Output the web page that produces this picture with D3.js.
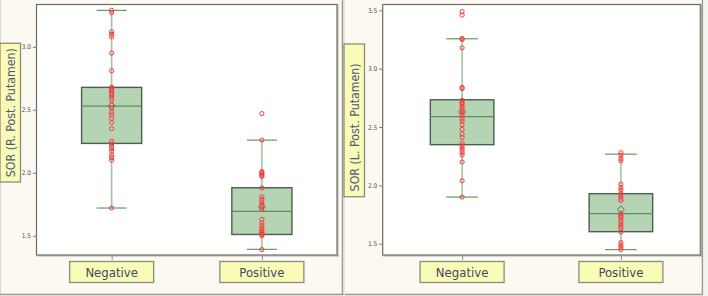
<!DOCTYPE html>
<html>
<head>
<meta charset="utf-8">
<script src="https://cdn.jsdelivr.net/npm/d3@7"></script>
<style>
  html, body { margin: 0; padding: 0; background: #ffffff; }
  svg { display: block; }
</style>
</head>
<body>
<svg id="chart" width="708" height="296"></svg>
<script>
// Categories and tick labels
const categories = ["Negative", "Positive"];
const rightPutamenTicks = [1.5, 2.0, 2.5, 3.0];
const leftPutamenTicks = [1.5, 2.0, 2.5, 3.0, 3.5];

// Box stats per category: [min, q1, median, q3, max]
const rightPutamenBoxes = [[1.72, 2.233, 2.529, 2.678, 3.289], [1.392, 1.51, 1.694, 1.881, 2.259]];
const leftPutamenBoxes = [[1.90, 2.349, 2.589, 2.734, 3.257], [1.449, 1.603, 1.757, 1.929, 2.268]];
const rightPutamenMeans = [2.53, 1.73];
const leftPutamenMeans = [2.63, 1.794];

// Individual subjects
const rightNegative = [3.29, 3.27, 3.12, 3.10, 3.08, 2.95, 2.81, 2.68, 2.67, 2.66, 2.65, 2.63, 2.62,
  2.60, 2.58, 2.54, 2.51, 2.48, 2.46, 2.43, 2.40, 2.35, 2.25, 2.23, 2.21, 2.19, 2.17, 2.14, 2.12, 2.10, 1.72];
const rightPositive = [2.47, 2.26, 2.01, 2.00, 1.99, 1.98, 1.97, 1.88, 1.81, 1.79, 1.77, 1.75, 1.73,
  1.71, 1.63, 1.60, 1.58, 1.56, 1.54, 1.53, 1.52, 1.51, 1.50, 1.39];
const leftNegative = [3.49, 3.46, 3.26, 3.25, 3.18, 2.84, 2.83, 2.73, 2.71, 2.70, 2.68, 2.66, 2.64,
  2.62, 2.60, 2.57, 2.55, 2.52, 2.48, 2.44, 2.41, 2.36, 2.34, 2.32, 2.30, 2.28, 2.26, 2.20, 2.04, 1.90];
const leftPositive = [2.28, 2.26, 2.23, 2.21, 2.01, 1.98, 1.96, 1.93, 1.91, 1.89, 1.87, 1.76, 1.74,
  1.73, 1.71, 1.69, 1.67, 1.65, 1.63, 1.60, 1.51, 1.49, 1.47, 1.45];

const svg = d3.select("#chart");
const font = "'DejaVu Sans Condensed', 'DejaVu Sans', sans-serif";

// panel backgrounds
svg.append("rect").attr("x", 0).attr("y", 0).attr("width", 708).attr("height", 296).attr("fill", "#fbf9f1");
svg.append("line").attr("x1", 0.5).attr("x2", 0.5).attr("y1", 0).attr("y2", 295).attr("stroke", "#d8d6ce");
svg.append("line").attr("x1", 0).attr("x2", 703).attr("y1", 294.5).attr("y2", 294.5).attr("stroke", "#9a9890").attr("stroke-width", 1.5);
svg.append("line").attr("x1", 342.5).attr("x2", 342.5).attr("y1", 0).attr("y2", 295).attr("stroke", "#9a9890").attr("stroke-width", 1.5);
svg.append("rect").attr("x", 343.5).attr("y", 0).attr("width", 1.5).attr("height", 295).attr("fill", "#e4e2da");
svg.append("line").attr("x1", 702.5).attr("x2", 702.5).attr("y1", 0).attr("y2", 295).attr("stroke", "#9a9890").attr("stroke-width", 1.5);
svg.append("rect").attr("x", 703.5).attr("y", 0).attr("width", 4.5).attr("height", 296).attr("fill", "#f4f3ee");

function drawPanel(o) {
  const g = svg.append("g");
  const y = d3.scaleLinear().domain(o.domain).range([o.y1, o.y0]);
  const x = d3.scalePoint().domain(categories).range([o.x0, o.x1]).padding(0.5);
  const w = o.x1 - o.x0;
  const boxW = w * 0.2, capW = w * 0.1;

  // plot area
  g.append("rect").attr("x", o.x0).attr("y", o.y0).attr("width", w).attr("height", o.y1 - o.y0)
    .attr("fill", "#ffffff").attr("stroke", "#6c6c60").attr("stroke-width", 1.2);
  g.append("line").attr("x1", o.x1 + 0.8).attr("x2", o.x1 + 0.8).attr("y1", o.y0).attr("y2", o.y1 + 1.5)
    .attr("stroke", "#8a8a80").attr("stroke-width", 1);
  g.append("line").attr("x1", o.x0).attr("x2", o.x1 + 1.5).attr("y1", o.y1 + 0.8).attr("y2", o.y1 + 0.8)
    .attr("stroke", "#8a8a80").attr("stroke-width", 1);

  // y axis
  const yAxis = g.append("g").attr("transform", `translate(${o.x0},0)`)
    .call(d3.axisLeft(y).tickValues(o.ticks).tickFormat(d3.format(".1f")).tickSize(3.5).tickPadding(2));
  yAxis.select(".domain").remove();
  yAxis.selectAll("line").attr("stroke", "#777");
  yAxis.selectAll("text").attr("fill", "#505050").style("font", `6.5px ${font}`);

  // x axis ticks
  const xAxis = g.append("g").attr("transform", `translate(0,${o.y1 + 1})`)
    .call(d3.axisBottom(x).tickSize(4).tickFormat(""));
  xAxis.select(".domain").remove();
  xAxis.selectAll("line").attr("stroke", "#888");

  // category label boxes
  categories.forEach(c => {
    const cx = x(c);
    g.append("rect").attr("x", cx - 42).attr("y", 261.5).attr("width", 84).attr("height", 21)
      .attr("fill", "#fbfbb8").attr("stroke", "#8c8c7a").attr("stroke-width", 1.3);
    g.append("text").attr("x", cx).attr("y", 277).attr("text-anchor", "middle")
      .attr("fill", "#3b4867").style("font", `13px ${font}`).text(c);
  });

  // y label box
  g.append("rect").attr("x", o.lx).attr("y", o.ly0).attr("width", 20.5).attr("height", o.ly1 - o.ly0)
    .attr("fill", "#fbfbb8").attr("stroke", "#8c8c7a").attr("stroke-width", 1.3);
  g.append("text").attr("transform", `translate(${o.lx + 15},${(o.ly0 + o.ly1) / 2 + o.lshift}) rotate(-90)`)
    .attr("text-anchor", "middle").attr("fill", "#4a5878").style("font", `12.3px ${font}`).text(o.label);

  // boxes
  o.boxes.forEach((b, i) => {
    const cx = x(categories[i]);
    g.append("line").attr("x1", cx).attr("x2", cx).attr("y1", y(b[0])).attr("y2", y(b[4]))
      .attr("stroke", "#a3c4a3").attr("stroke-width", 1.6);
    [b[0], b[4]].forEach(v => {
      g.append("line").attr("x1", cx - capW / 2).attr("x2", cx + capW / 2).attr("y1", y(v)).attr("y2", y(v))
        .attr("stroke", "#5e9d5e").attr("stroke-width", 1.2);
    });
    g.append("rect").attr("x", cx - boxW / 2).attr("y", y(b[3])).attr("width", boxW).attr("height", y(b[1]) - y(b[3]))
      .attr("fill", "#b5d4b3").attr("stroke", "#4c5e4c").attr("stroke-width", 1.4);
    g.append("line").attr("x1", cx - boxW / 2).attr("x2", cx + boxW / 2).attr("y1", y(b[2])).attr("y2", y(b[2]))
      .attr("stroke", "#5f8c5f").attr("stroke-width", 1.3);
    const my = y(o.means[i]);
    g.append("path").attr("d", `M${cx},${my - 3.5}L${cx + 3.5},${my}L${cx},${my + 3.5}L${cx - 3.5},${my}Z`)
      .attr("fill", "none").attr("stroke", "#4f7f4f").attr("stroke-width", 1);
  });

  // points
  o.points.forEach((pts, i) => {
    const cx = x(categories[i]);
    g.selectAll(null).data(pts).enter().append("circle")
      .attr("cx", cx).attr("cy", d => y(d)).attr("r", 2.1)
      .attr("fill", "none").attr("stroke", "#f83a3a").attr("stroke-width", 1);
  });
}

drawPanel({
  x0: 36.5, x1: 337, y0: 4.5, y1: 255, domain: [1.347, 3.336], ticks: rightPutamenTicks,
  boxes: rightPutamenBoxes, means: rightPutamenMeans, points: [rightNegative, rightPositive],
  label: "SOR (R. Post. Putamen)", lx: 0, ly0: 43.3, ly1: 182, lshift: 0
});
drawPanel({
  x0: 382.7, x1: 700.3, y0: 4.5, y1: 255, domain: [1.403, 3.551], ticks: leftPutamenTicks,
  boxes: leftPutamenBoxes, means: leftPutamenMeans, points: [leftNegative, leftPositive],
  label: "SOR (L. Post. Putamen)", lx: 344, ly0: 44, ly1: 196.7, lshift: 7
});
</script>
</body>
</html>
